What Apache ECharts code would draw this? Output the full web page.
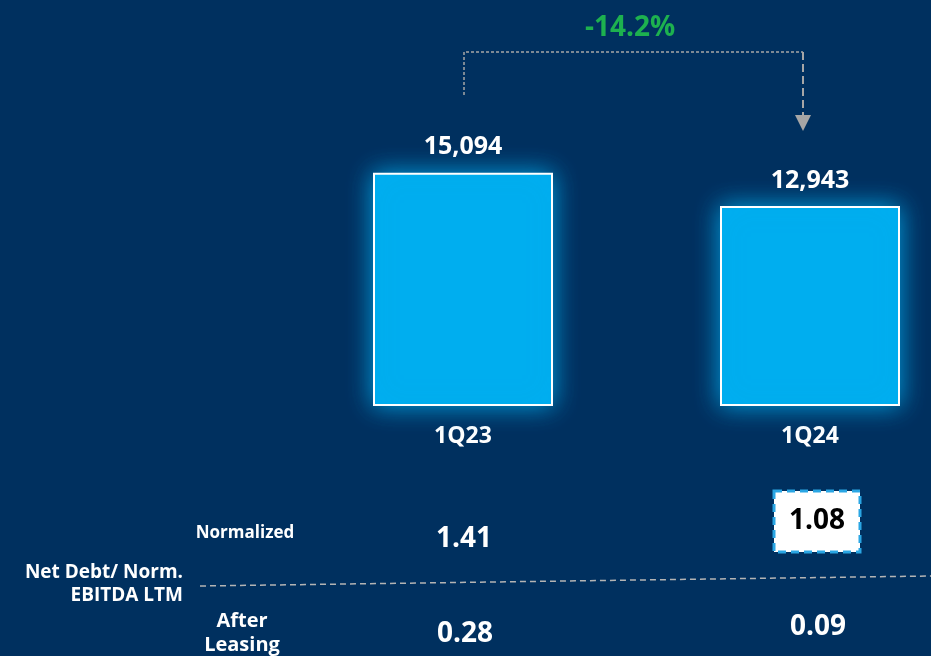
<!DOCTYPE html>
<html>
<head>
<meta charset="utf-8">
<script src="https://cdn.jsdelivr.net/npm/echarts@6/dist/echarts.min.js"></script>
<style>
html, body { margin: 0; padding: 0; background: #00305f; }
#main { width: 931px; height: 656px; }
</style>
</head>
<body>
<div id="main"></div>
<script>
var categories = ['1Q23', '1Q24'];
var netDebt = [15094, 12943];
var changeLabel = '-14.2%';
var normalized = ['1.41', '1.08'];
var afterLeasing = ['0.28', '0.09'];

var FONT = '"Open Sans", Lato, sans-serif';
var chart = echarts.init(document.getElementById('main'));

chart.setOption({
    backgroundColor: '#00305f',
    animation: false,
    grid: { left: 463, right: 121, top: 97, bottom: 250 },
    xAxis: {
        type: 'category',
        data: categories,
        boundaryGap: false,
        axisLine: { show: false },
        axisTick: { show: false },
        axisLabel: { color: '#fff', fontSize: 23, fontWeight: 'bold', fontFamily: FONT, margin: 19 }
    },
    yAxis: { type: 'value', min: 0, max: 20000, show: false, splitLine: { show: false } },
    series: [{
        type: 'bar',
        data: netDebt,
        barWidth: 180,
        clip: false,
        itemStyle: {
            color: '#00aeef',
            borderColor: '#ffffff',
            borderWidth: 2,
            shadowColor: 'rgba(0,174,239,0.9)',
            shadowBlur: 24
        },
        label: {
            show: true,
            position: 'top',
            distance: 13,
            color: '#fff',
            fontSize: 25,
            fontWeight: 'bold',
            fontFamily: FONT,
            formatter: function (p) { return p.value.toLocaleString('en-US'); }
        }
    }]
});

// annotation positions taken from the axes
var p0 = chart.convertToPixel({ xAxisIndex: 0, yAxisIndex: 0 }, [0, netDebt[0]]);
var p1 = chart.convertToPixel({ xAxisIndex: 0, yAxisIndex: 0 }, [1, netDebt[1]]);
var x0 = p0[0], x1 = p1[0];
var ax = x1 - 7;
var dashGrey = '#a6a6a6';

function txt(text, x, y, size, color, align) {
    return {
        type: 'text',
        style: {
            text: text, x: x, y: y, align: align || 'center', verticalAlign: 'middle',
            fill: color || '#fff', font: 'bold ' + size + 'px ' + FONT
        }
    };
}

var els = [
    { type: 'polyline', shape: { points: [[x0 + 1, 95], [x0 + 1, 52], [ax, 52]] },
      style: { stroke: dashGrey, lineWidth: 1.5, lineDash: [3, 2], fill: null } },
    { type: 'line', shape: { x1: ax, y1: 52, x2: ax, y2: 118 },
      style: { stroke: dashGrey, lineWidth: 2, lineDash: [8, 4] } },
    { type: 'polygon', shape: { points: [[ax - 8, 115], [ax + 8, 115], [ax, 131]] },
      style: { fill: dashGrey } },
    txt(changeLabel, 630, 28, 28, '#1db14f'),

    // table
    { type: 'line', shape: { x1: 200, y1: 586, x2: 931, y2: 576 },
      style: { stroke: '#b4b4b4', lineWidth: 1.5, lineDash: [6, 4] } },
    txt('Normalized', 245, 533, 17),
    txt('Net Debt/ Norm.', 183, 573, 19, '#fff', 'right'),
    txt('EBITDA LTM', 183, 596, 19, '#fff', 'right'),
    txt('After', 242, 621, 20),
    txt('Leasing', 242, 645, 20),
    txt(normalized[0], x0 + 1, 539, 28),
    { type: 'rect', shape: { x: 774, y: 491, width: 86, height: 61 },
      style: { fill: '#fff', stroke: '#2aa6e4', lineWidth: 3, lineDash: [8, 5] } },
    txt(normalized[1], x1 + 7, 521, 28, '#000'),
    txt(afterLeasing[0], x0 + 2, 634, 28),
    txt(afterLeasing[1], x1 + 8, 627, 28)
];

chart.setOption({ graphic: { elements: els } });
</script>
</body>
</html>
